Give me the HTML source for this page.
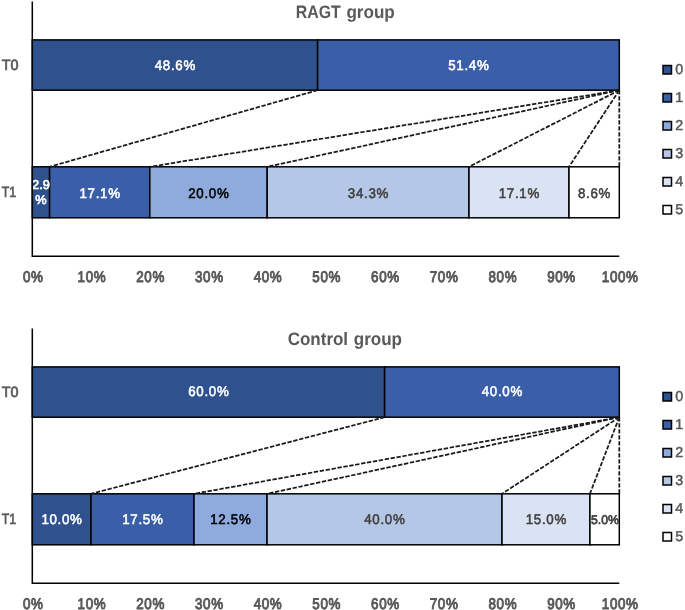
<!DOCTYPE html>
<html><head><meta charset="utf-8"><style>
html,body{margin:0;padding:0;background:#fff;}
svg{display:block;will-change:transform;}
text{font-family:"Liberation Sans",sans-serif;text-rendering:geometricPrecision;}
.ttl{font-size:18px;font-weight:bold;fill:#595959;}
.yl{font-size:14.8px;font-weight:normal;fill:#595959;stroke:#595959;stroke-width:0.7px;}
.lt{font-size:14.3px;font-weight:normal;fill:#595959;stroke:#595959;stroke-width:0.5px;}
.seg{stroke:#000;stroke-width:1.5;}
.lg{stroke:#000;stroke-width:1.5;}
.dash{stroke:#1a1a1a;stroke-width:1.75;stroke-dasharray:4.4 1.6;fill:none;}
.ax{stroke:#000;stroke-width:1.5;fill:none;}
</style></head><body>
<svg width="685" height="610" viewBox="0 0 685 610">
<rect width="685" height="610" fill="#fff"/>
<text x="295.8" y="18.0" class="ttl" textLength="45.0" lengthAdjust="spacingAndGlyphs">RAGT</text>
<text x="346.4" y="18.0" class="ttl" textLength="48.4" lengthAdjust="spacingAndGlyphs">group</text>
<rect x="32.30" y="39.90" width="285.30" height="50.3" fill="#2F528F" class="seg"/>
<rect x="317.60" y="39.90" width="301.70" height="50.3" fill="#3A5FA8" class="seg"/>
<rect x="32.30" y="166.80" width="17.30" height="51.0" fill="#2F528F" class="seg"/>
<rect x="49.60" y="166.80" width="100.20" height="51.0" fill="#3A5FA8" class="seg"/>
<rect x="149.80" y="166.80" width="117.40" height="51.0" fill="#8FAADC" class="seg"/>
<rect x="267.20" y="166.80" width="201.80" height="51.0" fill="#B4C7E7" class="seg"/>
<rect x="469.00" y="166.80" width="100.00" height="51.0" fill="#DAE3F3" class="seg"/>
<rect x="569.00" y="166.80" width="50.30" height="51.0" fill="#FFFFFF" class="seg"/>
<line x1="317.60" y1="90.20" x2="49.60" y2="166.80" class="dash"/>
<line x1="619.30" y1="90.20" x2="149.80" y2="166.80" class="dash"/>
<line x1="619.30" y1="90.20" x2="267.20" y2="166.80" class="dash"/>
<line x1="619.30" y1="90.20" x2="469.00" y2="166.80" class="dash"/>
<line x1="619.30" y1="90.20" x2="569.00" y2="166.80" class="dash"/>
<line x1="619.30" y1="90.20" x2="619.30" y2="166.80" class="dash"/>
<text x="0" y="0" transform="translate(175.31,70.25) scale(0.95,1)" letter-spacing="0.75" font-size="14.0" font-weight="normal" text-anchor="middle" fill="#FFFFFF" stroke="#FFFFFF" stroke-width="0.55">48.6%</text>
<text x="0" y="0" transform="translate(468.81,70.25) scale(0.95,1)" letter-spacing="0.75" font-size="14.0" font-weight="normal" text-anchor="middle" fill="#FFFFFF" stroke="#FFFFFF" stroke-width="0.55">51.4%</text>
<text x="0" y="0" transform="translate(40.95,188.90) scale(1.0,1)" font-size="12.8" font-weight="normal" text-anchor="middle" fill="#FFFFFF" stroke="#FFFFFF" stroke-width="0.65">2.9</text>
<text x="0" y="0" transform="translate(40.95,204.00) scale(1.0,1)" font-size="12.8" font-weight="normal" text-anchor="middle" fill="#FFFFFF" stroke="#FFFFFF" stroke-width="0.65">%</text>
<text x="0" y="0" transform="translate(100.06,198.15) scale(0.95,1)" letter-spacing="0.75" font-size="14.0" font-weight="normal" text-anchor="middle" fill="#FFFFFF" stroke="#FFFFFF" stroke-width="0.55">17.1%</text>
<text x="0" y="0" transform="translate(208.86,198.15) scale(0.95,1)" letter-spacing="0.75" font-size="14.0" font-weight="normal" text-anchor="middle" fill="#000000" stroke="#000000" stroke-width="0.55">20.0%</text>
<text x="0" y="0" transform="translate(368.46,198.15) scale(0.95,1)" letter-spacing="0.75" font-size="14.0" font-weight="normal" text-anchor="middle" fill="#404040" stroke="#404040" stroke-width="0.55">34.3%</text>
<text x="0" y="0" transform="translate(519.36,198.15) scale(0.95,1)" letter-spacing="0.75" font-size="14.0" font-weight="normal" text-anchor="middle" fill="#404040" stroke="#404040" stroke-width="0.55">17.1%</text>
<text x="0" y="0" transform="translate(594.51,198.15) scale(0.95,1)" letter-spacing="0.75" font-size="14.0" font-weight="normal" text-anchor="middle" fill="#404040" stroke="#404040" stroke-width="0.55">8.6%</text>
<polyline points="32.3,1.5 32.3,256.2 619.3,256.2" class="ax"/>
<text x="1.7" y="69.9" class="yl" textLength="16.8" lengthAdjust="spacingAndGlyphs">T0</text>
<text x="1.7" y="196.9" class="yl" textLength="14.5" lengthAdjust="spacingAndGlyphs">T1</text>
<text x="0" y="0" transform="translate(33.23,282.20) scale(0.87,1)" letter-spacing="0.75" font-size="15.4" font-weight="normal" text-anchor="middle" fill="#595959" stroke="#595959" stroke-width="0.95">0%</text>
<text x="0" y="0" transform="translate(91.93,282.20) scale(0.87,1)" letter-spacing="0.75" font-size="15.4" font-weight="normal" text-anchor="middle" fill="#595959" stroke="#595959" stroke-width="0.95">10%</text>
<text x="0" y="0" transform="translate(150.63,282.20) scale(0.87,1)" letter-spacing="0.75" font-size="15.4" font-weight="normal" text-anchor="middle" fill="#595959" stroke="#595959" stroke-width="0.95">20%</text>
<text x="0" y="0" transform="translate(209.33,282.20) scale(0.87,1)" letter-spacing="0.75" font-size="15.4" font-weight="normal" text-anchor="middle" fill="#595959" stroke="#595959" stroke-width="0.95">30%</text>
<text x="0" y="0" transform="translate(268.03,282.20) scale(0.87,1)" letter-spacing="0.75" font-size="15.4" font-weight="normal" text-anchor="middle" fill="#595959" stroke="#595959" stroke-width="0.95">40%</text>
<text x="0" y="0" transform="translate(326.73,282.20) scale(0.87,1)" letter-spacing="0.75" font-size="15.4" font-weight="normal" text-anchor="middle" fill="#595959" stroke="#595959" stroke-width="0.95">50%</text>
<text x="0" y="0" transform="translate(385.43,282.20) scale(0.87,1)" letter-spacing="0.75" font-size="15.4" font-weight="normal" text-anchor="middle" fill="#595959" stroke="#595959" stroke-width="0.95">60%</text>
<text x="0" y="0" transform="translate(444.13,282.20) scale(0.87,1)" letter-spacing="0.75" font-size="15.4" font-weight="normal" text-anchor="middle" fill="#595959" stroke="#595959" stroke-width="0.95">70%</text>
<text x="0" y="0" transform="translate(502.83,282.20) scale(0.87,1)" letter-spacing="0.75" font-size="15.4" font-weight="normal" text-anchor="middle" fill="#595959" stroke="#595959" stroke-width="0.95">80%</text>
<text x="0" y="0" transform="translate(561.53,282.20) scale(0.87,1)" letter-spacing="0.75" font-size="15.4" font-weight="normal" text-anchor="middle" fill="#595959" stroke="#595959" stroke-width="0.95">90%</text>
<text x="0" y="0" transform="translate(620.23,282.20) scale(0.87,1)" letter-spacing="0.75" font-size="15.4" font-weight="normal" text-anchor="middle" fill="#595959" stroke="#595959" stroke-width="0.95">100%</text>
<rect x="663" y="65.5" width="8.5" height="8.5" fill="#2F528F" class="lg"/>
<text x="675.2" y="74.2" class="lt">0</text>
<rect x="663" y="93.5" width="8.5" height="8.5" fill="#3A5FA8" class="lg"/>
<text x="675.2" y="102.2" class="lt">1</text>
<rect x="663" y="121.5" width="8.5" height="8.5" fill="#8FAADC" class="lg"/>
<text x="675.2" y="130.2" class="lt">2</text>
<rect x="663" y="149.5" width="8.5" height="8.5" fill="#B4C7E7" class="lg"/>
<text x="675.2" y="158.2" class="lt">3</text>
<rect x="663" y="177.5" width="8.5" height="8.5" fill="#DAE3F3" class="lg"/>
<text x="675.2" y="186.2" class="lt">4</text>
<rect x="663" y="205.5" width="8.5" height="8.5" fill="#FFFFFF" class="lg"/>
<text x="675.2" y="214.2" class="lt">5</text>
<text x="287.7" y="345.0" class="ttl" textLength="60.4" lengthAdjust="spacingAndGlyphs">Control</text>
<text x="353.8" y="345.0" class="ttl" textLength="48.2" lengthAdjust="spacingAndGlyphs">group</text>
<rect x="32.30" y="366.90" width="352.30" height="50.3" fill="#2F528F" class="seg"/>
<rect x="384.60" y="366.90" width="234.70" height="50.3" fill="#3A5FA8" class="seg"/>
<rect x="32.30" y="493.80" width="58.70" height="51.0" fill="#2F528F" class="seg"/>
<rect x="91.00" y="493.80" width="103.00" height="51.0" fill="#3A5FA8" class="seg"/>
<rect x="194.00" y="493.80" width="73.05" height="51.0" fill="#8FAADC" class="seg"/>
<rect x="267.05" y="493.80" width="234.95" height="51.0" fill="#B4C7E7" class="seg"/>
<rect x="502.00" y="493.80" width="87.95" height="51.0" fill="#DAE3F3" class="seg"/>
<rect x="589.95" y="493.80" width="29.35" height="51.0" fill="#FFFFFF" class="seg"/>
<line x1="384.60" y1="417.20" x2="91.00" y2="493.80" class="dash"/>
<line x1="619.30" y1="417.20" x2="194.00" y2="493.80" class="dash"/>
<line x1="619.30" y1="417.20" x2="267.05" y2="493.80" class="dash"/>
<line x1="619.30" y1="417.20" x2="502.00" y2="493.80" class="dash"/>
<line x1="619.30" y1="417.20" x2="589.95" y2="493.80" class="dash"/>
<line x1="619.30" y1="417.20" x2="619.30" y2="493.80" class="dash"/>
<text x="0" y="0" transform="translate(208.81,396.00) scale(0.95,1)" letter-spacing="0.75" font-size="14.0" font-weight="normal" text-anchor="middle" fill="#FFFFFF" stroke="#FFFFFF" stroke-width="0.55">60.0%</text>
<text x="0" y="0" transform="translate(502.31,396.00) scale(0.95,1)" letter-spacing="0.75" font-size="14.0" font-weight="normal" text-anchor="middle" fill="#FFFFFF" stroke="#FFFFFF" stroke-width="0.55">40.0%</text>
<text x="0" y="0" transform="translate(62.01,524.00) scale(0.95,1)" letter-spacing="0.75" font-size="14.0" font-weight="normal" text-anchor="middle" fill="#FFFFFF" stroke="#FFFFFF" stroke-width="0.55">10.0%</text>
<text x="0" y="0" transform="translate(142.86,524.00) scale(0.95,1)" letter-spacing="0.75" font-size="14.0" font-weight="normal" text-anchor="middle" fill="#FFFFFF" stroke="#FFFFFF" stroke-width="0.55">17.5%</text>
<text x="0" y="0" transform="translate(230.88,524.00) scale(0.95,1)" letter-spacing="0.75" font-size="14.0" font-weight="normal" text-anchor="middle" fill="#000000" stroke="#000000" stroke-width="0.55">12.5%</text>
<text x="0" y="0" transform="translate(384.88,524.00) scale(0.95,1)" letter-spacing="0.75" font-size="14.0" font-weight="normal" text-anchor="middle" fill="#404040" stroke="#404040" stroke-width="0.55">40.0%</text>
<text x="0" y="0" transform="translate(546.33,524.00) scale(0.95,1)" letter-spacing="0.75" font-size="14.0" font-weight="normal" text-anchor="middle" fill="#404040" stroke="#404040" stroke-width="0.55">15.0%</text>
<text x="0" y="0" transform="translate(604.92,523.90) scale(0.97,1)" font-size="12.6" font-weight="normal" text-anchor="middle" fill="#404040" stroke="#404040" stroke-width="0.7">5.0%</text>
<polyline points="32.3,328.5 32.3,583.2 619.3,583.2" class="ax"/>
<text x="1.7" y="396.9" class="yl" textLength="16.8" lengthAdjust="spacingAndGlyphs">T0</text>
<text x="1.7" y="523.9" class="yl" textLength="14.5" lengthAdjust="spacingAndGlyphs">T1</text>
<text x="0" y="0" transform="translate(33.23,609.20) scale(0.87,1)" letter-spacing="0.75" font-size="15.4" font-weight="normal" text-anchor="middle" fill="#595959" stroke="#595959" stroke-width="0.95">0%</text>
<text x="0" y="0" transform="translate(91.93,609.20) scale(0.87,1)" letter-spacing="0.75" font-size="15.4" font-weight="normal" text-anchor="middle" fill="#595959" stroke="#595959" stroke-width="0.95">10%</text>
<text x="0" y="0" transform="translate(150.63,609.20) scale(0.87,1)" letter-spacing="0.75" font-size="15.4" font-weight="normal" text-anchor="middle" fill="#595959" stroke="#595959" stroke-width="0.95">20%</text>
<text x="0" y="0" transform="translate(209.33,609.20) scale(0.87,1)" letter-spacing="0.75" font-size="15.4" font-weight="normal" text-anchor="middle" fill="#595959" stroke="#595959" stroke-width="0.95">30%</text>
<text x="0" y="0" transform="translate(268.03,609.20) scale(0.87,1)" letter-spacing="0.75" font-size="15.4" font-weight="normal" text-anchor="middle" fill="#595959" stroke="#595959" stroke-width="0.95">40%</text>
<text x="0" y="0" transform="translate(326.73,609.20) scale(0.87,1)" letter-spacing="0.75" font-size="15.4" font-weight="normal" text-anchor="middle" fill="#595959" stroke="#595959" stroke-width="0.95">50%</text>
<text x="0" y="0" transform="translate(385.43,609.20) scale(0.87,1)" letter-spacing="0.75" font-size="15.4" font-weight="normal" text-anchor="middle" fill="#595959" stroke="#595959" stroke-width="0.95">60%</text>
<text x="0" y="0" transform="translate(444.13,609.20) scale(0.87,1)" letter-spacing="0.75" font-size="15.4" font-weight="normal" text-anchor="middle" fill="#595959" stroke="#595959" stroke-width="0.95">70%</text>
<text x="0" y="0" transform="translate(502.83,609.20) scale(0.87,1)" letter-spacing="0.75" font-size="15.4" font-weight="normal" text-anchor="middle" fill="#595959" stroke="#595959" stroke-width="0.95">80%</text>
<text x="0" y="0" transform="translate(561.53,609.20) scale(0.87,1)" letter-spacing="0.75" font-size="15.4" font-weight="normal" text-anchor="middle" fill="#595959" stroke="#595959" stroke-width="0.95">90%</text>
<text x="0" y="0" transform="translate(620.23,609.20) scale(0.87,1)" letter-spacing="0.75" font-size="15.4" font-weight="normal" text-anchor="middle" fill="#595959" stroke="#595959" stroke-width="0.95">100%</text>
<rect x="663" y="392.5" width="8.5" height="8.5" fill="#2F528F" class="lg"/>
<text x="675.2" y="401.2" class="lt">0</text>
<rect x="663" y="420.5" width="8.5" height="8.5" fill="#3A5FA8" class="lg"/>
<text x="675.2" y="429.2" class="lt">1</text>
<rect x="663" y="448.5" width="8.5" height="8.5" fill="#8FAADC" class="lg"/>
<text x="675.2" y="457.2" class="lt">2</text>
<rect x="663" y="476.5" width="8.5" height="8.5" fill="#B4C7E7" class="lg"/>
<text x="675.2" y="485.2" class="lt">3</text>
<rect x="663" y="504.5" width="8.5" height="8.5" fill="#DAE3F3" class="lg"/>
<text x="675.2" y="513.2" class="lt">4</text>
<rect x="663" y="532.5" width="8.5" height="8.5" fill="#FFFFFF" class="lg"/>
<text x="675.2" y="541.2" class="lt">5</text>
</svg>
</body></html>
